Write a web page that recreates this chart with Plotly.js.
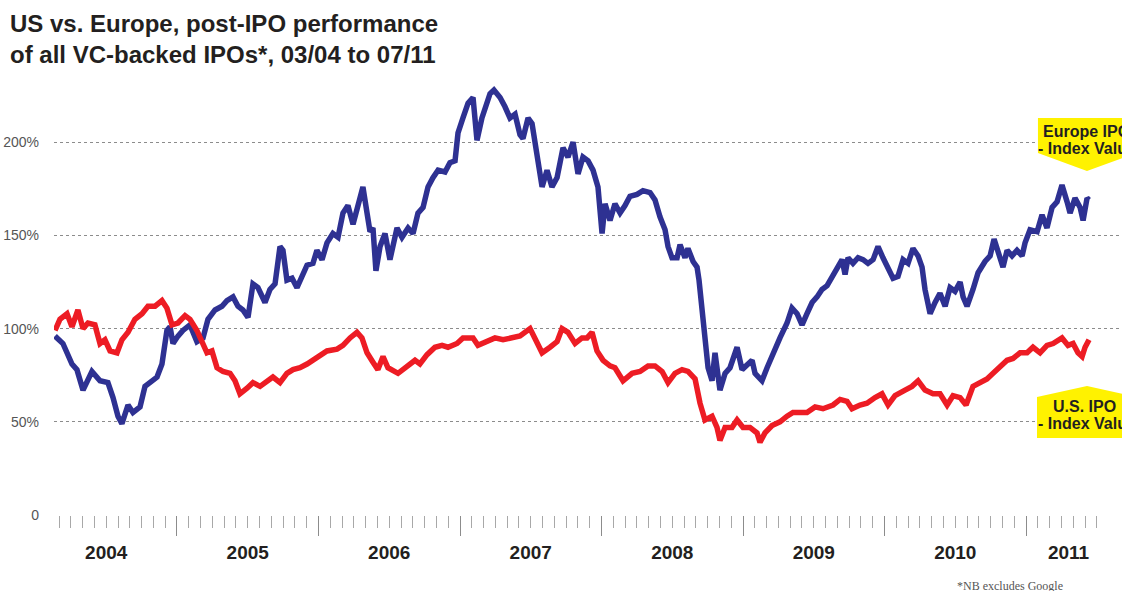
<!DOCTYPE html>
<html>
<head>
<meta charset="utf-8">
<script src="https://cdn.plot.ly/plotly-3.0.1.min.js"></script>
<style>
  html, body { margin: 0; padding: 0; background: #fff; }
  #chart { width: 1122px; height: 591px; }
</style>
</head>
<body>
<div id="chart"></div>
<script>
// Europe IPO index (decimal years, % of start)
var euroYear = [
  2004.138,2004.194,2004.258,2004.293,2004.336,2004.364,2004.399,2004.456,2004.512,2004.548,
  2004.583,2004.611,2004.654,2004.689,2004.739,2004.774,2004.823,2004.859,2004.894,2004.929,
  2004.951,2004.972,2005.007,2005.042,2005.092,2005.141,2005.184,2005.219,2005.269,2005.318,
  2005.353,2005.396,2005.431,2005.466,2005.502,2005.537,2005.572,2005.622,2005.657,2005.693,
  2005.728,2005.749,2005.777,2005.813,2005.848,2005.883,2005.919,2005.961,2005.989,2006.025,
  2006.060,2006.102,2006.138,2006.173,2006.208,2006.244,2006.279,2006.314,2006.343,2006.364,
  2006.385,2006.406,2006.435,2006.470,2006.505,2006.555,2006.590,2006.633,2006.668,2006.703,
  2006.739,2006.774,2006.809,2006.845,2006.894,2006.929,2006.965,2006.986,2007.021,2007.057,
  2007.092,2007.120,2007.155,2007.177,2007.212,2007.240,2007.283,2007.318,2007.353,2007.389,
  2007.424,2007.445,2007.481,2007.509,2007.544,2007.580,2007.615,2007.650,2007.686,2007.728,
  2007.763,2007.799,2007.834,2007.869,2007.905,2007.940,2007.975,2008.004,2008.025,2008.060,
  2008.095,2008.131,2008.166,2008.201,2008.251,2008.293,2008.343,2008.378,2008.413,2008.449,
  2008.470,2008.498,2008.534,2008.555,2008.590,2008.611,2008.647,2008.675,2008.689,2008.710,
  2008.731,2008.753,2008.781,2008.802,2008.837,2008.873,2008.908,2008.929,2008.958,2008.993,
  2009.028,2009.064,2009.085,2009.134,2009.170,2009.212,2009.261,2009.311,2009.346,2009.382,
  2009.417,2009.452,2009.488,2009.523,2009.558,2009.594,2009.629,2009.664,2009.700,2009.721,
  2009.742,2009.777,2009.813,2009.848,2009.883,2009.919,2009.954,2009.989,2010.025,2010.060,
  2010.095,2010.131,2010.166,2010.201,2010.237,2010.265,2010.286,2010.322,2010.357,2010.392,
  2010.428,2010.463,2010.498,2010.534,2010.555,2010.583,2010.625,2010.661,2010.710,2010.746,
  2010.774,2010.802,2010.837,2010.866,2010.901,2010.936,2010.972,2010.993,2011.028,2011.078,
  2011.113,2011.148,2011.184,2011.219,2011.254,2011.290,2011.311,2011.346,2011.382,2011.403,
  2011.431,2011.445
];
var euroVal = [
  96,92,81,78,67,71,77,72,71,63,
  53,49,59,55,58,69,72,74,81,99,
  101,92,96,99,102,93,95,105,110,112,
  115,117,112,110,106,124,122,114,121,124,
  144,142,126,127,122,128,134,135,142,137,
  146,151,149,162,166,156,166,176,162,152,
  154,131,144,151,137,154,149,154,151,162,
  165,176,181,185,184,189,190,205,213,221,
  224,201,213,219,226,228,224,219,213,215,
  204,202,213,210,194,176,185,176,181,197,
  192,200,183,192,190,185,176,151,167,158,
  167,162,166,171,172,174,173,169,160,153,
  144,138,138,145,138,143,136,133,126,110,
  90,79,72,87,67,76,79,83,90,78,
  81,83,76,72,79,87,95,103,111,108,
  102,108,114,117,121,123,128,133,137,129,
  138,135,138,137,135,137,144,138,133,127,
  128,137,135,143,139,133,121,108,114,119,
  112,122,120,125,117,112,121,130,136,139,
  148,142,133,142,139,142,139,146,153,152,
  161,154,165,168,177,168,162,170,165,158,
  170,169
];

// U.S. IPO index
var usYear = [
  2004.138,2004.173,2004.223,2004.258,2004.300,2004.336,2004.371,2004.420,2004.456,2004.491,
  2004.527,2004.576,2004.611,2004.654,2004.703,2004.753,2004.795,2004.845,2004.894,2004.929,
  2004.965,2005.007,2005.057,2005.092,2005.141,2005.177,2005.212,2005.247,2005.283,2005.325,
  2005.375,2005.410,2005.445,2005.495,2005.537,2005.587,2005.636,2005.678,2005.728,2005.777,
  2005.820,2005.869,2005.919,2005.961,2006.011,2006.060,2006.131,2006.173,2006.223,2006.272,
  2006.307,2006.343,2006.385,2006.420,2006.456,2006.491,2006.562,2006.625,2006.682,2006.717,
  2006.767,2006.823,2006.873,2006.915,2006.979,2007.021,2007.092,2007.127,2007.191,2007.247,
  2007.304,2007.367,2007.424,2007.495,2007.530,2007.580,2007.636,2007.686,2007.721,2007.763,
  2007.813,2007.862,2007.898,2007.933,2007.968,2008.011,2008.060,2008.095,2008.152,2008.216,
  2008.272,2008.329,2008.378,2008.428,2008.470,2008.519,2008.569,2008.611,2008.661,2008.696,
  2008.731,2008.781,2008.816,2008.837,2008.873,2008.922,2008.958,2009.000,2009.049,2009.099,
  2009.120,2009.155,2009.205,2009.261,2009.311,2009.353,2009.403,2009.452,2009.509,2009.565,
  2009.636,2009.686,2009.735,2009.770,2009.827,2009.876,2009.933,2009.982,2010.025,2010.074,
  2010.145,2010.194,2010.237,2010.286,2010.343,2010.392,2010.442,2010.484,2010.534,2010.576,
  2010.625,2010.675,2010.724,2010.767,2010.816,2010.866,2010.908,2010.958,2011.007,2011.049,
  2011.099,2011.148,2011.191,2011.254,2011.297,2011.332,2011.367,2011.396,2011.417,2011.445
];
var usVal = [
  99,105,108,101,110,100,103,102,92,94,
  88,87,94,98,105,108,112,112,115,111,
  102,103,107,105,99,92,87,88,79,77,
  76,72,65,68,71,69,72,74,71,76,
  78,79,81,83,86,88,89,91,95,98,
  95,87,82,78,85,79,76,80,83,81,
  86,90,91,90,92,95,95,91,93,95,
  94,95,96,100,95,87,90,93,100,98,
  92,95,95,98,88,83,80,79,72,76,
  77,80,80,77,71,76,78,77,73,60,
  51,53,47,40,47,47,51,47,47,44,
  39,44,48,50,53,55,55,55,58,57,
  59,62,61,57,59,60,63,65,59,64,
  67,69,72,67,65,65,59,64,63,59,
  69,71,73,76,79,83,84,87,87,90,
  87,91,92,95,91,92,87,85,90,94
];

var yTickVals = [0, 50, 100, 150, 200];
var yTickText = ['0', '50%', '100%', '150%', '200%'];
var yearLabels = ['2004', '2005', '2006', '2007', '2008', '2009', '2010', '2011'];
var yearLabelPos = [2004.5, 2005.5, 2006.5, 2007.5, 2008.5, 2009.5, 2010.5, 2011.3];

var xRange = [2004.131, 2011.678];

// month ticks from 03/04 to 07/11
var monthTicks = [];
for (var m = 2; m <= 90; m++) {
  monthTicks.push(2004 + m / 12);
}

var narrow = 'Liberation Sans Narrow, Arial Narrow, sans-serif';

var data = [
  {
    x: euroYear,
    y: euroVal,
    type: 'scatter',
    mode: 'lines',
    line: { color: '#2e3192', width: 5.5 },
    hoverinfo: 'skip'
  },
  {
    // drawn against the overlaid label axis so that it carries the year labels
    x: usYear,
    y: usVal,
    xaxis: 'x2',
    type: 'scatter',
    mode: 'lines',
    line: { color: '#ed1c24', width: 5.5 },
    hoverinfo: 'skip'
  }
];

var layout = {
  width: 1122,
  height: 591,
  margin: { l: 54, r: 0, t: 49, b: 76 },
  paper_bgcolor: '#fff',
  plot_bgcolor: '#fff',
  showlegend: false,
  title: {
    text: 'US vs. Europe, post-IPO performance<br>of all VC-backed IPOs*, 03/04 to 07/11',
    font: { family: narrow, size: 24, color: '#231f20', weight: 'bold' },
    xref: 'container', yref: 'container',
    x: 10 / 1122, xanchor: 'left',
    y: 1 - 32 / 591, yanchor: 'top'
  },
  xaxis: {
    type: 'linear',
    range: xRange,
    showgrid: false,
    zeroline: false,
    showline: false,
    tickmode: 'linear',
    tick0: 2005,
    dtick: 1,
    ticks: 'outside',
    ticklen: 20,
    tickwidth: 1,
    tickcolor: '#8c8c8c',
    showticklabels: false,
    minor: {
      tickmode: 'array',
      tickvals: monthTicks,
      ticks: 'outside',
      ticklen: 12,
      tickwidth: 1,
      tickcolor: '#a8a8a8',
      showgrid: false
    }
  },
  xaxis2: {
    type: 'linear',
    overlaying: 'x',
    matches: 'x',
    anchor: 'y',
    side: 'bottom',
    range: xRange,
    showgrid: false,
    zeroline: false,
    showline: false,
    tickmode: 'array',
    tickvals: yearLabelPos,
    ticktext: yearLabels,
    ticks: '',
    ticklabelstandoff: 24,
    tickfont: { family: narrow, size: 19, color: '#231f20', weight: 'bold' }
  },
  yaxis: {
    range: [0, 250],
    tickmode: 'array',
    tickvals: yTickVals,
    ticktext: yTickText,
    showgrid: true,
    gridcolor: '#8c8c8c',
    griddash: 'dot',
    gridwidth: 1,
    zeroline: false,
    showline: false,
    ticks: '',
    ticklabelstandoff: 14,
    tickfont: { family: narrow, size: 14, color: '#555' }
  },
  shapes: [
    {
      type: 'path', xref: 'paper', yref: 'paper',
      path: 'M 0.9213 0.8519 L 1.0131 0.8519 L 1.0131 0.7768 L 0.9672 0.7382 L 0.9213 0.7768 Z',
      fillcolor: '#fff200', line: { width: 0 }
    },
    {
      type: 'path', xref: 'paper', yref: 'paper',
      path: 'M 0.9204 0.2532 L 0.9672 0.2768 L 1.0140 0.2532 L 1.0140 0.1652 L 0.9204 0.1652 Z',
      fillcolor: '#fff200', line: { width: 0 }
    }
  ],
  annotations: [
    { text: 'Europe IPO', xref: 'paper', yref: 'paper', x: 0.9672, y: (515 - 131) / 466,
      xanchor: 'center', yanchor: 'middle', showarrow: false,
      font: { family: narrow, size: 16, color: '#231f20', weight: 'bold' } },
    { text: '- Index Value', xref: 'paper', yref: 'paper', x: 0.9672, y: (515 - 148) / 466,
      xanchor: 'center', yanchor: 'middle', showarrow: false,
      font: { family: narrow, size: 16, color: '#231f20', weight: 'bold' } },
    { text: 'U.S. IPO', xref: 'paper', yref: 'paper', x: 0.9650, y: (515 - 406) / 466,
      xanchor: 'center', yanchor: 'middle', showarrow: false,
      font: { family: narrow, size: 16, color: '#231f20', weight: 'bold' } },
    { text: '- Index Value', xref: 'paper', yref: 'paper', x: 0.9672, y: (515 - 423) / 466,
      xanchor: 'center', yanchor: 'middle', showarrow: false,
      font: { family: narrow, size: 16, color: '#231f20', weight: 'bold' } },
    { text: '*NB excludes Google', xref: 'paper', yref: 'paper', x: (955 - 54) / 1068, y: (515 - 586) / 466,
      xanchor: 'left', yanchor: 'middle', showarrow: false,
      font: { family: 'Liberation Serif, serif', size: 12, color: '#555' } }
  ]
};

Plotly.newPlot('chart', data, layout, { displayModeBar: false, staticPlot: true });
</script>
</body>
</html>
